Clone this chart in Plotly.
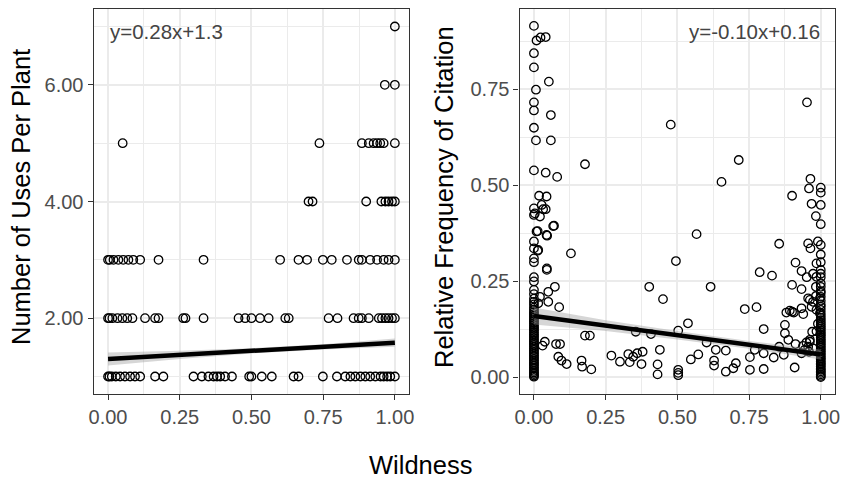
import plotly.graph_objects as go

# ---------------- data: left panel (Number of Uses Per Plant) ----------------
uses_x_7 = [1.0]
uses_x_6 = [0.965, 1.0]
uses_x_5 = [0.051, 0.737, 0.885, 0.909, 0.926, 0.938, 0.949, 0.961, 1.0]
uses_x_4 = [0.699, 0.713, 0.90, 0.953, 0.967, 0.978, 0.99, 1.0]
uses_x_3 = [0.0, 0.006, 0.019, 0.036, 0.053, 0.071, 0.088, 0.112, 0.176, 0.333,
            0.60, 0.664, 0.694, 0.749, 0.78, 0.833, 0.874, 0.885, 0.914, 0.938,
            0.961, 0.978, 1.0]
uses_x_2 = [0.0, 0.005, 0.015, 0.033, 0.05, 0.067, 0.085, 0.129, 0.164, 0.176,
            0.262, 0.27, 0.333, 0.455, 0.478, 0.5, 0.53, 0.56, 0.618, 0.63,
            0.769, 0.80, 0.856, 0.874, 0.885, 0.909, 0.944, 0.955, 0.967, 0.978,
            0.99, 1.0]
uses_x_1 = [0.0, 0.005, 0.013, 0.027, 0.042, 0.059, 0.077, 0.094, 0.112, 0.164,
            0.193, 0.298, 0.327, 0.35, 0.368, 0.38, 0.391, 0.408, 0.432, 0.492,
            0.5, 0.536, 0.571, 0.647, 0.664, 0.749, 0.798, 0.827, 0.845, 0.862,
            0.88, 0.897, 0.914, 0.932, 0.95, 0.961, 0.973, 0.984, 1.0]
uses_rows = {7: uses_x_7, 6: uses_x_6, 5: uses_x_5, 4: uses_x_4,
             3: uses_x_3, 2: uses_x_2, 1: uses_x_1}
uses_slope, uses_intercept = 0.28, 1.3
uses_band_x = [0.0, 0.25, 0.5, 0.75, 1.0]
uses_band_half = [0.11, 0.07, 0.045, 0.045, 0.07]
uses_equation = "y=0.28x+1.3"

# ---------------- data: right panel (Relative Frequency of Citation) ----------------
rfc_x = [0.0, 0.009, 0.023, 0.041, 0.0, 0.0, 0.052, 0.007, 0.0, 0.0, 0.059, 0.0,
         0.007, 0.059, 0.178, 0.477, 0.0, 0.041, 0.081, 0.714, 0.654, 0.952,
         0.964, 0.959, 1.0, 1.0, 0.9, 0.018, 0.044,
         0.0, 0.027, 0.041, 0.003, 0.032, 0.0, 0.021, 0.07, 0.067, 0.013, 0.009,
         0.046, 0.044, 0.0, 0.0, 0.013, 0.015, 0.129, 0.045, 0.045, 0.0, 0.0,
         0.021, 0.05, 0.073, 0.0, 0.015, 0.05, 0.088,
         0.03, 0.038, 0.077, 0.091, 0.085, 0.096, 0.114, 0.166, 0.168, 0.2,
         0.178, 0.195,
         0.402, 0.45, 0.495, 0.567, 0.616, 0.537, 0.503, 0.355, 0.408, 0.27,
         0.3, 0.329, 0.346, 0.36, 0.379, 0.334, 0.375, 0.439, 0.431, 0.431,
         0.503, 0.503, 0.503, 0.547, 0.573, 0.602, 0.628, 0.628, 0.634, 0.669,
         0.669, 0.695, 0.704, 0.753, 0.753, 0.77, 0.735, 0.776, 0.787, 0.83,
         0.801, 0.801, 0.801, 0.836, 0.855, 0.855, 0.871,
         0.875, 0.875, 0.887, 0.912, 0.9, 0.933, 0.88, 0.9, 0.906, 0.933, 0.939,
         0.912, 0.909, 0.933, 0.944, 0.956, 0.962, 0.956, 0.964, 0.933, 0.951,
         0.973, 0.956, 0.962, 0.97, 0.968, 1.0, 0.983, 1.0, 0.99, 1.0, 0.985,
         1.0, 0.985, 1.0, 0.983, 1.0, 0.983, 1.0, 0.973, 0.997, 1.0, 0.892,
         0.968, 0.985, 0.997, 0.938, 0.95, 0.962, 0.959, 0.973, 0.99, 0.985]
rfc_y = [0.915, 0.877, 0.885, 0.886, 0.844, 0.807, 0.77, 0.749, 0.716, 0.695,
         0.683, 0.65, 0.617, 0.617, 0.555, 0.658, 0.539, 0.533, 0.522, 0.566,
         0.509, 0.716, 0.517, 0.492, 0.494, 0.481, 0.473, 0.473, 0.471,
         0.44, 0.449, 0.438, 0.427, 0.438, 0.423, 0.419, 0.395, 0.394, 0.381,
         0.38, 0.369, 0.371, 0.354, 0.336, 0.33, 0.332, 0.323, 0.28, 0.284,
         0.261, 0.217, 0.21, 0.223, 0.236, 0.197, 0.193, 0.197, 0.183,
         0.083, 0.093, 0.087, 0.087, 0.054, 0.044, 0.035, 0.044, 0.028, 0.021,
         0.109, 0.109,
         0.236, 0.204, 0.303, 0.373, 0.236, 0.141, 0.122, 0.119, 0.113, 0.057,
         0.041, 0.061, 0.054, 0.063, 0.067, 0.04, 0.035, 0.072, 0.034, 0.008,
         0.02, 0.012, 0.006, 0.047, 0.06, 0.091, 0.044, 0.031, 0.072, 0.07,
         0.015, 0.024, 0.037, 0.053, 0.02, 0.072, 0.178, 0.183, 0.274, 0.265,
         0.126, 0.063, 0.022, 0.052, 0.348, 0.08, 0.059,
         0.137, 0.115, 0.098, 0.299, 0.241, 0.23, 0.169, 0.171, 0.169, 0.18,
         0.165, 0.087, 0.026, 0.063, 0.072, 0.08, 0.093, 0.349, 0.336, 0.277,
         0.261, 0.27, 0.206, 0.202, 0.119, 0.452, 0.449, 0.42, 0.399, 0.354,
         0.345, 0.297, 0.28, 0.262, 0.261, 0.236, 0.236, 0.212, 0.21, 0.197,
         0.206, 0.184, 0.174, 0.184, 0.176, 0.167, 0.082, 0.091, 0.098, 0.067,
         0.076, 0.14, 0.12]
# dense stacks at wildness 0 and 1
rfc_col0_y = [0.002, 0.005, 0.009, 0.013, 0.017, 0.022, 0.026, 0.031, 0.035,
              0.039, 0.044, 0.048, 0.053, 0.057, 0.062, 0.066, 0.071, 0.075,
              0.08, 0.085, 0.089, 0.094, 0.098, 0.103, 0.108, 0.112, 0.117,
              0.122, 0.127, 0.131, 0.136, 0.141, 0.146, 0.15, 0.155, 0.16,
              0.165, 0.17, 0.176, 0.182, 0.19, 0.205, 0.228, 0.25, 0.3, 0.31]
rfc_col1_y = [0.001, 0.004, 0.008, 0.012, 0.016, 0.02, 0.024, 0.029, 0.033,
              0.037, 0.041, 0.046, 0.05, 0.054, 0.059, 0.063, 0.068, 0.072,
              0.077, 0.081, 0.086, 0.09, 0.095, 0.099, 0.104, 0.109, 0.113,
              0.118, 0.123, 0.128, 0.133, 0.138, 0.143, 0.149, 0.155, 0.161,
              0.168, 0.176, 0.19, 0.2, 0.22, 0.225, 0.245, 0.27, 0.3, 0.32]
rfc_slope, rfc_intercept = -0.10, 0.16
rfc_band_x = [0.0, 0.25, 0.5, 0.75, 1.0]
rfc_band_half = [0.022, 0.014, 0.011, 0.01, 0.013]
rfc_equation = "y=-0.10x+0.16"

# ---------------- styling ----------------
FONT = "Liberation Sans, Arial, Helvetica, sans-serif"
TICK_COLOR = "#4D4D4D"
W, H = 841, 479

def px_x(p):
    return p / W

def px_y(p):
    return 1 - p / H

marker = dict(symbol="circle-open", size=8.5, color="black", line=dict(width=1.3))

fig = go.Figure()

# left scatter
lx, ly = [], []
for yv, xs in uses_rows.items():
    lx += xs
    ly += [yv] * len(xs)
fig.add_trace(go.Scatter(x=lx, y=ly, mode="markers", marker=marker,
                         xaxis="x", yaxis="y", showlegend=False, hoverinfo="skip"))

def add_fit(xa, ya, slope, icpt, bx, bh):
    up = [icpt + slope * x + h for x, h in zip(bx, bh)]
    lo = [icpt + slope * x - h for x, h in zip(bx, bh)]
    fig.add_trace(go.Scatter(x=bx + bx[::-1], y=up + lo[::-1], fill="toself",
                             fillcolor="rgba(153,153,153,0.4)", line=dict(width=0),
                             mode="lines", xaxis=xa, yaxis=ya, showlegend=False,
                             hoverinfo="skip"))
    fig.add_trace(go.Scatter(x=[bx[0], bx[-1]],
                             y=[icpt + slope * bx[0], icpt + slope * bx[-1]],
                             mode="lines", line=dict(color="black", width=4.5),
                             xaxis=xa, yaxis=ya, showlegend=False, hoverinfo="skip"))

add_fit("x", "y", uses_slope, uses_intercept, uses_band_x, uses_band_half)

# right scatter
rx = rfc_x + [0.0] * len(rfc_col0_y) + [1.0] * len(rfc_col1_y)
ry = rfc_y + rfc_col0_y + rfc_col1_y
fig.add_trace(go.Scatter(x=rx, y=ry, mode="markers", marker=marker,
                         xaxis="x2", yaxis="y2", showlegend=False, hoverinfo="skip"))
add_fit("x2", "y2", rfc_slope, rfc_intercept, rfc_band_x, rfc_band_half)

ydom = [px_y(394), px_y(9)]
common = dict(showline=True, mirror=True, linecolor="#333333", linewidth=1.4,
              ticks="outside", ticklen=5, tickwidth=1.4, tickcolor="#333333",
              showgrid=True, gridcolor="#EBEBEB", gridwidth=1.8, zeroline=False,
              tickfont=dict(family=FONT, size=20, color=TICK_COLOR),
              automargin=False)
minor_grid = dict(showgrid=True, gridcolor="#EBEBEB", gridwidth=0.9, ticks="")

xt = [0, 0.25, 0.5, 0.75, 1.0]
fig.update_layout(
    width=W, height=H,
    margin=dict(l=0, r=0, t=0, b=0),
    paper_bgcolor="white", plot_bgcolor="white",
    xaxis=dict(domain=[px_x(93.7), px_x(409.2)], range=[-0.05, 1.05],
               tickvals=xt, tickformat=".2f",
               minor=dict(tickvals=[0.125, 0.375, 0.625, 0.875], **minor_grid),
               anchor="y", **common),
    yaxis=dict(domain=ydom, range=[0.7, 7.3], tickvals=[2, 4, 6], tickformat=".2f",
               minor=dict(tickvals=[1, 3, 5, 7], **minor_grid), anchor="x", **common),
    xaxis2=dict(domain=[px_x(519.6), px_x(835.1)], range=[-0.05, 1.05],
                tickvals=xt, tickformat=".2f",
                minor=dict(tickvals=[0.125, 0.375, 0.625, 0.875], **minor_grid),
                anchor="y2", **common),
    yaxis2=dict(domain=ydom, range=[-0.043, 0.959], tickvals=[0, 0.25, 0.5, 0.75],
                tickformat=".2f",
                minor=dict(tickvals=[0.125, 0.375, 0.625, 0.875], **minor_grid),
                anchor="x2", **common),
)

fig.add_annotation(x=0.0, y=6.91, xref="x", yref="y", text=uses_equation,
                   showarrow=False, xanchor="left", yanchor="middle",
                   font=dict(family=FONT, size=20.5, color="#444444"))
fig.add_annotation(x=1.005, y=0.9, xref="x2", yref="y2", text=rfc_equation,
                   showarrow=False, xanchor="right", yanchor="middle",
                   font=dict(family=FONT, size=20.5, color="#444444"))

title_font = dict(family=FONT, size=25.5, color="black")
fig.add_annotation(x=px_x(21), y=px_y(197), xref="paper", yref="paper",
                   text="Number of Uses Per Plant", textangle=-90, showarrow=False,
                   xanchor="center", yanchor="middle", font=title_font)
fig.add_annotation(x=px_x(444), y=px_y(197), xref="paper", yref="paper",
                   text="Relative Frequency of Citation", textangle=-90,
                   showarrow=False, xanchor="center", yanchor="middle", font=title_font)
fig.add_annotation(x=px_x(420), y=px_y(465), xref="paper", yref="paper",
                   text="Wildness", showarrow=False, xanchor="center",
                   yanchor="middle", borderpad=0, font=title_font)

fig.write_html(
    "out.html",
    config={"displayModeBar": False},
    post_script="document.body.style.margin='0';document.body.style.overflow='hidden';",
)
